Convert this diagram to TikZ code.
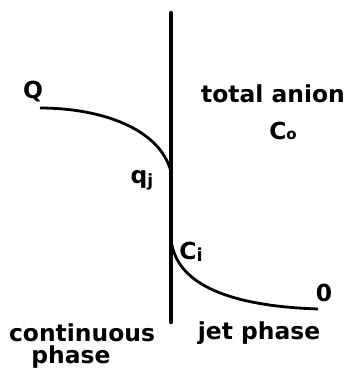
\documentclass[tikz,border=0pt]{standalone}
\usepackage{fontspec}
\setmainfont{DejaVu Sans}
\begin{document}
\begin{tikzpicture}[x=1bp,y=-1bp,
  lbl/.style={font=\fontsize{23.5}{26}\selectfont\bfseries, inner sep=0pt, align=center},
  curve/.style={line width=2.8bp},
  wall/.style={line width=4.5bp, line cap=round}]
\useasboundingbox (0,0) rectangle (354,370);
% interface line
\coordinate (top) at (171,13);
\coordinate (bot) at (171,322);
\draw[wall] (top) -- (bot);
% curves
\coordinate (qs) at (40,108);
\coordinate (qe) at (171,172);
\coordinate (cs) at (172,245);
\coordinate (ce) at (318,309);
\draw[curve] (qs) .. controls (100,108) and (160,128) .. (qe);
\draw[curve] (cs) .. controls (180,285) and (230,306) .. (ce);
% labels
\node[lbl] (Q) at (33,92) {Q};
\node[lbl] (qj) at (142,180) {q\raisebox{-0.25ex}{\fontsize{17}{18}\selectfont j}};
\node[lbl] (Ci) at (191,252) {C\raisebox{-0.15ex}{\fontsize{18}{18}\selectfont i}};
\node[lbl] (zero) at (324,293) {0};
\node[lbl] (total) at (273,94) {total anion};
\node[lbl] (Co) at (283,131) {C\raisebox{-0.05ex}{\fontsize{15}{15}\selectfont o}};
\node[lbl] (cont) at (82,333) {continuous};
\node[lbl] (ph) at (71,357) {phase};
\node[lbl] (jet) at (259,333) {jet phase};
\end{tikzpicture}
\end{document}
